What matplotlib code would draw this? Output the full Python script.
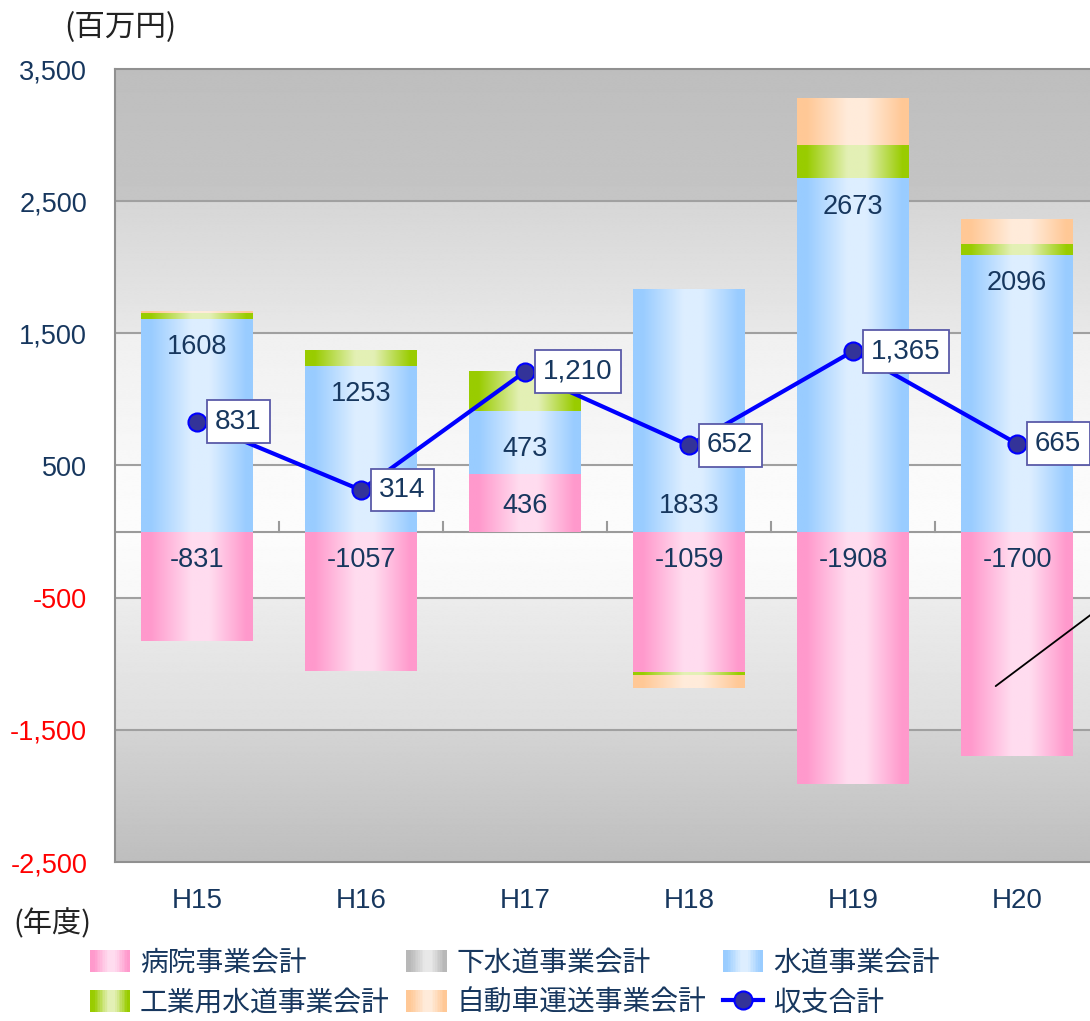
import numpy as np
import matplotlib
matplotlib.use('Agg')
import matplotlib.pyplot as plt
from matplotlib.patches import Rectangle
from matplotlib.legend_handler import HandlerBase
from matplotlib.lines import Line2D
from matplotlib.colors import to_rgb

# データ（百万円）
years = ['H15', 'H16', 'H17', 'H18', 'H19', 'H20']
hospital = [-831, -1057, 436, -1059, -1908, -1700]   # 病院事業会計
sewer = [0, 0, 0, 0, 0, 0]                           # 下水道事業会計
water = [1608, 1253, 473, 1833, 2673, 2096]          # 水道事業会計
industrial = [45, 118, 301, -30, 250, 80]            # 工業用水道事業会計
auto = [9, 0, 0, -92, 350, 189]                      # 自動車運送事業会計
total = [831, 314, 1210, 652, 1365, 665]             # 収支合計

yticks = [3500, 2500, 1500, 500, -500, -1500, -2500]

NUM_FONT = ['Liberation Sans', 'DejaVu Sans']
JP_FONT = ['Noto Sans CJK JP', 'DejaVu Sans']
NAVY = '#17375e'

# 系列: ラベル, 端の色, 中央の色
series = [
    ('病院事業会計', hospital, '#ff99cc', '#ffdcef'),
    ('下水道事業会計', sewer, '#b8b8b8', '#e8e8e8'),
    ('水道事業会計', water, '#99ccff', '#ddeeff'),
    ('工業用水道事業会計', industrial, '#99cc00', '#e3f0b5'),
    ('自動車運送事業会計', auto, '#ffc896', '#ffebda'),
]


def grad_colors(edge, mid, n=60):
    e = np.array(to_rgb(edge))
    m = np.array(to_rgb(mid))
    t = np.linspace(0, 1, n)
    w = np.interp(t, [0, 0.08, 0.45, 0.62, 0.95, 1], [0, 0, 1, 1, 0, 0])
    return e[None, :] * (1 - w[:, None]) + m[None, :] * w[:, None]


class GradHandler(HandlerBase):
    def __init__(self, edge, mid):
        super().__init__()
        self.edge, self.mid = edge, mid

    def create_artists(self, legend, orig_handle, xdescent, ydescent,
                       width, height, fontsize, trans):
        cols = grad_colors(self.edge, self.mid, 24)
        n = len(cols)
        arts = []
        for i, c in enumerate(cols):
            arts.append(Rectangle((-xdescent + width * i / n, -ydescent),
                                  width / n * 1.1, height, facecolor=c,
                                  edgecolor='none', transform=trans))
        return arts


fig = plt.figure(figsize=(10.9, 10.21), dpi=100)
ax = fig.add_axes([115 / 1090, 1 - 862 / 1021, 1 - 115 / 1090, (862 - 69) / 1021])

xlim = (-0.5, -0.5 + 975 / 164)
ylim = (-2500, 3500)

# 背景（帯ごとのグラデーション）
yy = np.linspace(ylim[0], ylim[1], 1200)
eps = 1.0
sx = [-2500, -1500 - eps, -1500, -500 - eps, -500, 0, 500, 500 + eps, 1500, 1500 + eps, 2500, 2500 + eps, 3500]
sv = [190, 212, 222, 236, 248, 252, 250, 248, 240, 232, 214, 197, 190]
shade = np.interp(yy, sx, sv) / 255
bg = np.repeat(shade[:, None], 2, axis=1)
ax.imshow(bg, extent=(xlim[0], xlim[1], ylim[0], ylim[1]), origin='lower',
          aspect='auto', cmap='gray', vmin=0, vmax=1, zorder=0,
          interpolation='bilinear')

for g in [2500, 1500, 500, -500, -1500]:
    ax.axhline(g, color='#a0a0a0', lw=1.5, zorder=1)
ax.axhline(0, color='#9a9a9a', lw=1.5, zorder=1)
x = np.arange(len(years))
for b in x[:-1] + 0.5:
    ax.plot([b, b], [0, 75], color='#9a9a9a', lw=1.5, zorder=1)

# 積み上げ棒（グラデーション）
pos_bottom = np.zeros(len(years))
neg_bottom = np.zeros(len(years))
bar_w = 0.68
segs = {}
for name, vals, edge, mid in series:
    vals = np.array(vals, dtype=float)
    bottoms = np.where(vals >= 0, pos_bottom, neg_bottom)
    bars = ax.bar(x, vals, bar_w, bottom=bottoms, facecolor='none',
                  edgecolor='none', zorder=2)
    img = grad_colors(edge, mid)[None, :, :]
    for p, v in zip(bars.patches, vals):
        if v == 0:
            continue
        ax.imshow(img, extent=(p.get_x(), p.get_x() + p.get_width(),
                               p.get_y(), p.get_y() + p.get_height()),
                  aspect='auto', zorder=2, interpolation='bilinear')
    segs[name] = (bottoms.copy(), vals)
    pos_bottom += np.where(vals >= 0, vals, 0)
    neg_bottom += np.where(vals < 0, vals, 0)

# 棒の数値ラベル
water_pos = ['top', 'top', 'mid', 'base', 'top', 'top']
wb, wv = segs['水道事業会計']
for i, (b, v, mode) in enumerate(zip(wb, wv, water_pos)):
    if mode == 'top':
        ty = b + v - 215
    elif mode == 'mid':
        ty = b + v / 2 - 45
    else:
        ty = b + 190
    ax.text(i, ty, f'{int(v)}', ha='center', va='center', fontsize=19.5,
            color=NAVY, family=NUM_FONT, zorder=4)
hb, hv = segs['病院事業会計']
for i, v in enumerate(hv):
    ty = -215 if v < 0 else v / 2 - 28
    ax.text(i, ty, f'{int(v)}', ha='center', va='center',
            fontsize=19.5, color=NAVY, family=NUM_FONT, zorder=4)

# 収支合計
ax.plot(x, total, color='#0000ff', lw=3, marker='o', ms=13,
        mfc='#333399', mec='#0000ff', mew=1.5, zorder=5)
for i, v in enumerate(total):
    ax.annotate(f'{v:,}', (i, v), xytext=(13, 0), textcoords='offset points',
                ha='left', va='center', fontsize=20, color=NAVY,
                family=NUM_FONT, zorder=6,
                bbox=dict(boxstyle='square,pad=0.3', fc='white',
                          ec='#5a5aa8', lw=1.3))

# 右端の引き出し線
ax.annotate('', xy=(4.87, -1169), xytext=(5.75, -350),
            arrowprops=dict(arrowstyle='-', color='black', lw=1.3,
                            shrinkA=0, shrinkB=0),
            annotation_clip=False, zorder=6)

ax.set_xlim(*xlim)
ax.set_ylim(*ylim)
ax.set_yticks(yticks)
ax.set_yticklabels([f'{t:,}' for t in yticks])
for lbl, t in zip(ax.get_yticklabels(), yticks):
    lbl.set_color('#ff0000' if t < 0 else NAVY)
    lbl.set_family(NUM_FONT)
    lbl.set_fontsize(19.5)
ax.set_xticks(x)
ax.set_xticklabels(years, family=NUM_FONT, fontsize=20, color=NAVY)
ax.tick_params(axis='both', length=0)
ax.tick_params(axis='y', pad=20)
ax.tick_params(axis='x', pad=19)
for s in ['left', 'top', 'bottom']:
    ax.spines[s].set_color('#909090')
    ax.spines[s].set_linewidth(1.5)
ax.spines['right'].set_visible(False)

fig.text(64 / 1090, 1 - 28 / 1021, '(百万円)', family=JP_FONT, fontsize=22,
         color='#222222', ha='left', va='center')
fig.text(13 / 1090, 1 - 924 / 1021, '(年度)', family=JP_FONT, fontsize=21,
         color='#222222', ha='left', va='center')

# 凡例
handles = []
labels = []
hmap = {}
for name, vals, edge, mid in series:
    h = Rectangle((0, 0), 1, 1)
    handles.append(h)
    labels.append(name)
    hmap[h] = GradHandler(edge, mid)
line_h = Line2D([], [], color='#0000ff', lw=3, marker='o', ms=13,
                mfc='#333399', mec='#0000ff', mew=1.5)
handles.append(line_h)
labels.append('収支合計')
# 行方向の並び: 1行目 病院/下水道/水道, 2行目 工業用水道/自動車運送/収支合計
order = [0, 3, 1, 4, 2, 5]
leg = fig.legend([handles[k] for k in order], [labels[k] for k in order],
                 handler_map=hmap, ncol=3, loc='upper left',
                 bbox_to_anchor=(90 / 1090, 1 - 948 / 1021),
                 frameon=False, borderpad=0, borderaxespad=0,
                 handlelength=1.45, handleheight=0.85, handletextpad=0.35,
                 columnspacing=0.6, labelspacing=0.35,
                 prop={'family': JP_FONT, 'size': 20})
for t in leg.get_texts():
    t.set_color(NAVY)

fig.savefig('out.png', dpi=100)
